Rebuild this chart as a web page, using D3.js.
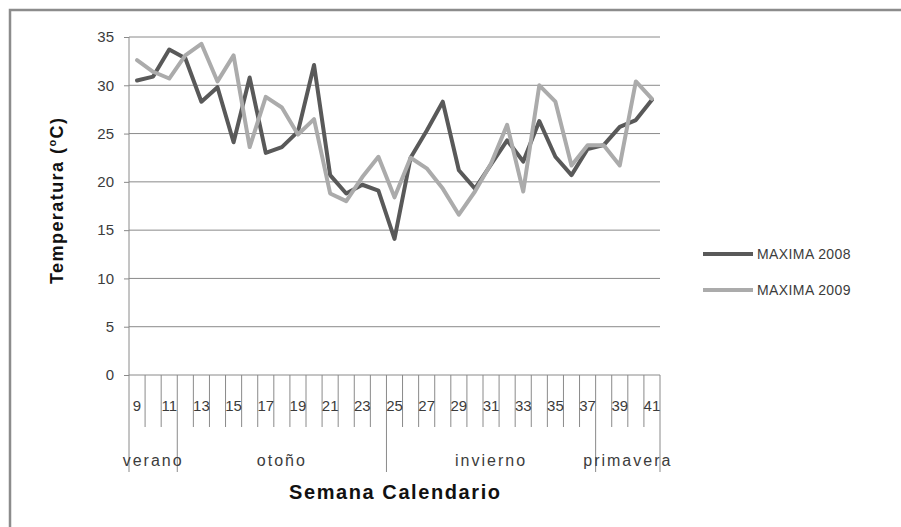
<!DOCTYPE html>
<html>
<head>
<meta charset="utf-8">
<script src="https://cdn.jsdelivr.net/npm/d3@7"></script>
<style>
  html, body { margin: 0; padding: 0; background: #fff; }
  svg text { font-family: "Liberation Sans", Arial, sans-serif; }
</style>
</head>
<body>
<svg id="chart" width="901" height="527"></svg>
<script>
// Weekly maximum temperatures, calendar weeks 9–41
const weeks = d3.range(9, 42);
const tickWeeks = weeks.filter(w => w % 2 === 1);
const max2008 = [30.5, 30.9, 33.7, 32.8, 28.3, 29.8, 24.1, 30.8, 23.0, 23.6, 25.2, 32.1, 20.7, 18.8, 19.7, 19.1, 14.1,
                 22.5, 25.3, 28.3, 21.2, 19.3, 21.8, 24.3, 22.1, 26.3, 22.6, 20.7, 23.4, 23.8, 25.7, 26.4, 28.5];
const max2009 = [32.6, 31.4, 30.7, 33.1, 34.3, 30.4, 33.1, 23.6, 28.8, 27.7, 24.9, 26.5, 18.8, 18.0, 20.5, 22.6, 18.4,
                 22.5, 21.4, 19.3, 16.6, 19.0, 21.9, 25.9, 19.0, 30.0, 28.3, 21.7, 23.8, 23.8, 21.7, 30.4, 28.6];
const seasons = ["verano", "otoño", "invierno", "primavera"];
const seasonStart = [9, 12, 25, 38];
const seasonEnd = [11, 24, 37, 41];
const yTicks = [0, 5, 10, 15, 20, 25, 30, 35];
const seriesNames = ["MAXIMA 2008", "MAXIMA 2009"];
const seriesColors = ["#595959", "#ababab"];

const svg = d3.select("#chart");
const plotLeft = 129, plotRight = 660, plotTop = 37, plotBottom = 375;
const gridColor = "#8a8a8a";
const textColor = "#3c3c3c";

// outer frame
svg.append("rect").attr("x", 10).attr("y", 10).attr("width", 1000).attr("height", 1000)
  .attr("fill", "none").attr("stroke", "#8c8c8c").attr("stroke-width", 2.5);

const x = d3.scaleBand().domain(weeks).range([plotLeft, plotRight]).paddingInner(0).paddingOuter(0);
const y = d3.scaleLinear().domain([0, 35]).range([plotBottom, plotTop]);

// horizontal gridlines
svg.append("g").selectAll("line").data(yTicks.filter(t => t > 0)).join("line")
  .attr("x1", plotLeft).attr("x2", plotRight)
  .attr("y1", d => y(d)).attr("y2", d => y(d))
  .attr("stroke", gridColor).attr("stroke-width", 1);

// y axis
const yAxis = svg.append("g").attr("transform", `translate(${plotLeft},0)`)
  .call(d3.axisLeft(y).tickValues(yTicks).tickSize(5).tickPadding(10));
yAxis.select(".domain").attr("stroke", gridColor).attr("d", `M0,${plotTop}V${plotBottom}`);
yAxis.selectAll(".tick line").attr("stroke", gridColor);
yAxis.selectAll(".tick text").attr("font-size", 15).attr("fill", textColor)
  .attr("font-family", "Liberation Sans, Arial, sans-serif");

// x axis line
svg.append("line").attr("x1", plotLeft).attr("x2", plotRight).attr("y1", plotBottom).attr("y2", plotBottom)
  .attr("stroke", gridColor);

// category boundary ticks; season boundaries run longer
const boundaries = d3.range(weeks.length + 1);
const seasonBounds = new Set([0, ...seasonEnd.map(w => weeks.indexOf(w) + 1)]);
svg.append("g").selectAll("line").data(boundaries).join("line")
  .attr("x1", k => plotLeft + k * x.step()).attr("x2", k => plotLeft + k * x.step())
  .attr("y1", plotBottom)
  .attr("y2", k => seasonBounds.has(k) ? 472 : 427)
  .attr("stroke", gridColor).attr("stroke-width", 1);

// week labels
const xAxis = svg.append("g").attr("transform", `translate(0,${plotBottom})`)
  .call(d3.axisBottom(x).tickValues(tickWeeks).tickSize(0).tickPadding(25));
xAxis.select(".domain").remove();
xAxis.selectAll(".tick text").attr("font-size", 15).attr("fill", textColor)
  .attr("font-family", "Liberation Sans, Arial, sans-serif");

// season labels
svg.append("g").selectAll("text").data(seasons).join("text")
  .attr("x", (d, i) => (x(seasonStart[i]) + x(seasonEnd[i]) + x.bandwidth()) / 2)
  .attr("y", 466)
  .attr("text-anchor", "middle").attr("font-size", 16).attr("letter-spacing", 2)
  .attr("fill", textColor)
  .text(d => d);

// axis titles
svg.append("text").attr("x", (plotLeft + plotRight) / 2).attr("y", 499)
  .attr("text-anchor", "middle").attr("font-size", 20).attr("font-weight", "bold")
  .attr("textLength", 211).attr("lengthAdjust", "spacing")
  .attr("fill", "#111").text("Semana Calendario");

const yt = svg.append("text").attr("transform", "translate(63,284) rotate(-90)")
  .attr("text-anchor", "start").attr("font-size", 18).attr("font-weight", "bold")
  .attr("textLength", 166).attr("lengthAdjust", "spacing").attr("fill", "#111");
yt.append("tspan").text("Temperatura (");
yt.append("tspan").attr("font-size", 11).attr("dy", -7).text("o");
yt.append("tspan").attr("dy", 7).text("C)");

// series lines (2009 drawn after 2008 so it sits on top)
const series = [max2008, max2009];
const line = d3.line().x((d, i) => x(weeks[i]) + x.bandwidth() / 2).y(d => y(d));
svg.append("g").selectAll("path").data(series).join("path")
  .attr("d", d => line(d))
  .attr("fill", "none")
  .attr("stroke", (d, i) => seriesColors[i])
  .attr("stroke-width", 4)
  .attr("stroke-linejoin", "round").attr("stroke-linecap", "round");

// legend
const legend = svg.append("g").selectAll("g").data(seriesNames).join("g")
  .attr("transform", (d, i) => `translate(703,${254 + i * 36})`);
legend.append("line").attr("x1", 0).attr("x2", 50).attr("y1", 0).attr("y2", 0)
  .attr("stroke", (d, i) => seriesColors[i]).attr("stroke-width", 4);
legend.append("text").attr("x", 54).attr("y", 5).attr("font-size", 14).attr("letter-spacing", 0.4)
  .attr("fill", textColor)
  .text(d => d);
</script>
</body>
</html>
